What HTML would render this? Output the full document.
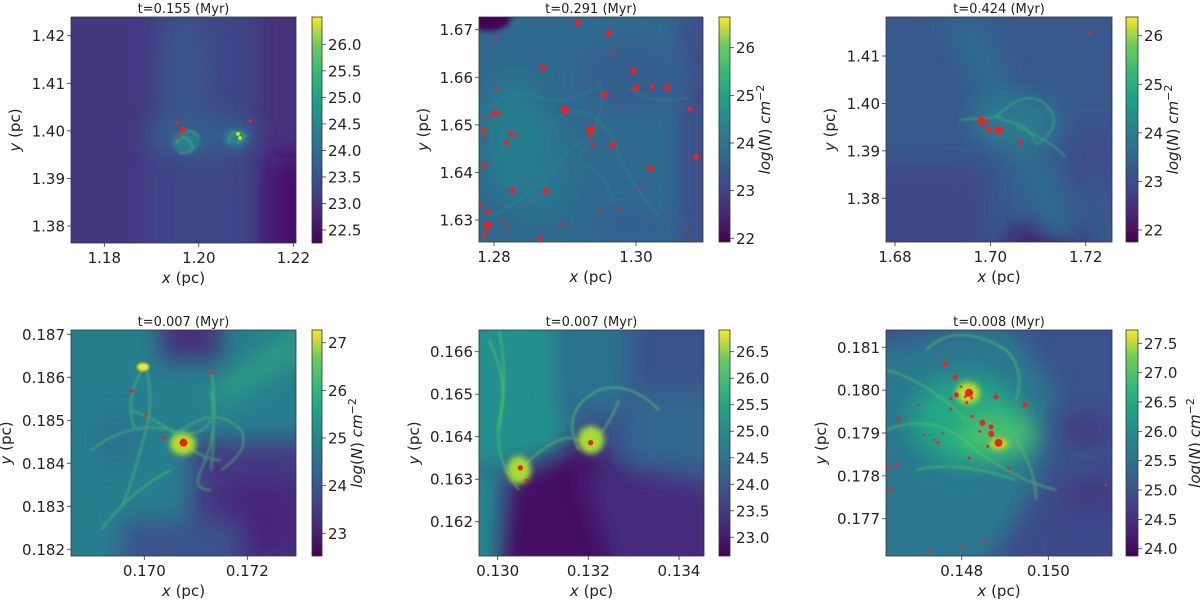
<!DOCTYPE html>
<html><head><meta charset="utf-8"><style>
html,body{margin:0;padding:0;background:#fff;width:1200px;height:600px;overflow:hidden}
svg text{font-family:"DejaVu Sans","Liberation Sans",sans-serif;fill:#222}
</style></head><body>
<svg id="fig" width="1200" height="600" viewBox="0 0 1200 600" xmlns="http://www.w3.org/2000/svg">
<defs>
<linearGradient id="viridis" x1="0" y1="1" x2="0" y2="0">
<stop offset="0" stop-color="#440154"/><stop offset="0.13" stop-color="#482878"/><stop offset="0.25" stop-color="#3e4989"/><stop offset="0.38" stop-color="#31688e"/><stop offset="0.5" stop-color="#26828e"/><stop offset="0.63" stop-color="#1f9e89"/><stop offset="0.75" stop-color="#35b779"/><stop offset="0.88" stop-color="#6ece58"/><stop offset="1" stop-color="#fde725"/>
</linearGradient>
<filter id="b8" filterUnits="userSpaceOnUse" x="-150" y="-150" width="550" height="550"><feGaussianBlur stdDeviation="12"/></filter>
<filter id="b3" filterUnits="userSpaceOnUse" x="-150" y="-150" width="550" height="550"><feGaussianBlur stdDeviation="3"/></filter>
<filter id="b1" filterUnits="userSpaceOnUse" x="-150" y="-150" width="550" height="550"><feGaussianBlur stdDeviation="1"/></filter>
</defs>
</svg>
<script>
// ---- data ----
const xTicks1=[1.18,1.20,1.22], yTicks1=[1.38,1.39,1.40,1.41,1.42], cTicks1=[22.5,23.0,23.5,24.0,24.5,25.0,25.5,26.0];
const sinkX1=[1.1967,1.1958,1.1954,1.2109], sinkY1=[1.4002,1.3985,1.4017,1.4021], sinkR1=[3,1.5,1.5,1.5];
const xTicks2=[1.28,1.30], yTicks2=[1.63,1.64,1.65,1.66,1.67], cTicks2=[22,23,24,25,26];
const sinkX2=[1.2918,1.2962,1.2869,1.2996,1.3000,1.3023,1.3044,1.2956,1.2900,1.2801,1.3076,1.2936,1.2967,1.2935,1.2940,1.3085,1.3020,1.2824,1.2818,1.2787,1.2787,1.2826,1.2873,1.2791,1.2780,1.2792,1.2787,1.2865,1.2819,1.2812,1.3004,1.2949,1.2976,1.3070,1.2896,1.2792,1.2808,1.2805,1.2832,1.2786,1.2967,1.2802];
const sinkY2=[1.6715,1.6692,1.6620,1.6613,1.6578,1.6580,1.6578,1.6563,1.6531,1.6525,1.6533,1.6489,1.6458,1.6473,1.6456,1.6433,1.6408,1.6482,1.6462,1.6471,1.6415,1.6362,1.6361,1.6288,1.6330,1.6318,1.6268,1.6261,1.6284,1.6300,1.6365,1.6319,1.6321,1.6281,1.6290,1.6517,1.6524,1.6575,1.6477,1.6488,1.6652,1.6683];
const sinkR2=[3,3,3,3,3,2.5,3,3,4,3,2.5,4,3,1.8,1.8,3,3,2.5,2.5,1.5,2.5,3,3,4,2.5,2.5,2.5,2.5,1.5,1.5,1.5,1.5,1.5,1.5,1.5,1.5,1.5,1.5,1.5,2.5,1.5,1.5];
const xTicks3=[1.68,1.70,1.72], yTicks3=[1.38,1.39,1.40,1.41], cTicks3=[22,23,24,25,26];
const sinkX3=[1.6982,1.6997,1.7018,1.7062,1.7207,1.6997], sinkY3=[1.3963,1.3946,1.3943,1.3917,1.4149,1.3964], sinkR3=[4,3,4,2.3,1.5,1.2];
const xTicks4=[0.170,0.172], yTicks4=[0.182,0.183,0.184,0.185,0.186,0.187], cTicks4=[23,24,25,26,27];
const sinkX4=[0.17076,0.16976,0.17003,0.17038,0.17130], sinkY4=[0.18448,0.18568,0.18512,0.18460,0.18612], sinkR4=[4,1.8,1.8,1.8,1.8];
const xTicks5=[0.130,0.132,0.134], yTicks5=[0.162,0.163,0.164,0.165,0.166], cTicks5=[23.0,23.5,24.0,24.5,25.0,25.5,26.0,26.5];
const sinkX5=[0.13050,0.13205,0.13063], sinkY5=[0.16327,0.16386,0.16297], sinkR5=[2.6,2.6,1.6];
const xTicks6=[0.148,0.150], yTicks6=[0.177,0.178,0.179,0.180,0.181], cTicks6=[24.0,24.5,25.0,25.5,26.0,26.5,27.0,27.5];
const sinkX6=[0.14817,0.14885,0.14848,0.14868,0.14868,0.14788,0.14879,0.14946,0.14761,0.14785,0.14823,0.14809,0.14812,0.14775,0.14775,0.14824,0.14842,0.14860,0.14817,0.14908,0.14745,0.14756,0.14737,0.14713,0.14700,0.14655,0.14650,0.14631,0.14635,0.14723,0.14802,0.14852,0.15134,0.14799];
const sinkY6=[0.17994,0.17877,0.17924,0.17898,0.17914,0.17989,0.17984,0.17965,0.18062,0.18030,0.17982,0.17985,0.17971,0.17980,0.17956,0.17939,0.17904,0.17869,0.17842,0.17817,0.17878,0.17900,0.17884,0.17895,0.17965,0.17932,0.17827,0.17818,0.17767,0.17627,0.17631,0.17646,0.17779,0.18008];
const sinkR6=[4,4,3,3,2.5,2.5,2.5,2.5,2.5,2.5,1.5,1.5,1.5,1.5,1.5,1.5,1.5,1.5,1.5,1.5,1.5,1.2,1.2,1.2,1.2,1.8,1.8,1.8,1.8,1.5,1.5,1.5,1.2,1.2];

// ---- layout ----
const panels=[
 {id:1,title:'t=0.155 (Myr)',box:[71,17,296,243],xr:[1.18,104.3,1.22,293.3],yr:[1.42,35.7,1.38,226],xt:xTicks1,yt:yTicks1,xd:2,yd:2,cb:[312,322],cr:[26.0,44.3,22.5,230],ct:cTicks1,cd:1,lab:false,sx:sinkX1,sy:sinkY1,sr:sinkR1,
  base:'#3f4788',bg:[['rect',{x:-30,y:-30,width:110,height:290,fill:'#453781'},'b8'],['rect',{x:185,y:-30,width:70,height:290,fill:'#46307c'},'b8'],['rect',{x:200,y:140,width:50,height:110,fill:'#45106a'},'b8'],['ellipse',{cx:115,cy:60,rx:20,ry:70,fill:'#3a578b'},'b8'],['ellipse',{cx:130,cy:118,rx:55,ry:20,fill:'#365d8d'},'b8'],['ellipse',{cx:115,cy:125,rx:14,ry:11,fill:'#2c7f8e'},'b3'],['ellipse',{cx:165,cy:121,rx:12,ry:9,fill:'#2c7f8e'},'b3'],['path',{d:'M104 128 q8 -14 16 -2 q6 10 -12 10 M110 116 q14 -6 18 6 M158 126 q0 -14 12 -10 q8 4 -4 10',stroke:'#3fbc73',fill:'none','stroke-width':1.4,opacity:0.8},'b1'],['circle',{cx:167,cy:117,r:2,fill:'#c8e020'},null],['circle',{cx:169,cy:121,r:2,fill:'#c8e020'},null]]},
 {id:2,title:'t=0.291 (Myr)',box:[479,17,703,242],xr:[1.28,494,1.30,636],yr:[1.67,29.7,1.63,220],xt:xTicks2,yt:yTicks2,xd:2,yd:2,cb:[719,730],cr:[26,47.7,22,238.3],ct:cTicks2,cd:0,lab:true,sx:sinkX2,sy:sinkY2,sr:sinkR2,
  base:'#2f6a8e',bg:[['ellipse',{cx:10,cy:0,rx:22,ry:14,fill:'#440154'},'b3'],['rect',{x:200,y:-20,width:50,height:270,fill:'#3c4f8a'},'b8'],['ellipse',{cx:150,cy:60,rx:50,ry:40,fill:'#345f8d'},'b8'],['ellipse',{cx:60,cy:150,rx:30,ry:50,fill:'#2a768e'},'b8'],['ellipse',{cx:150,cy:210,rx:40,ry:20,fill:'#33618d'},'b8'],['ellipse',{cx:35,cy:120,rx:30,ry:60,fill:'#287d8e'},'b8'],['path',{d:'M10 90 q30 -20 50 -10 t60 -10 M70 110 q20 -25 45 -10 q20 15 25 40 q15 30 40 60 M95 145 q30 5 40 40 M10 200 q40 -20 60 -40 q20 -30 40 -40 M120 60 q10 40 -20 80 M150 70 q20 20 60 10',stroke:'#25938a',fill:'none','stroke-width':1.3,opacity:0.6},'b1']]},
 {id:3,title:'t=0.424 (Myr)',box:[886,17,1112,242],xr:[1.68,895,1.72,1085.7],yr:[1.41,56,1.38,198.3],xt:xTicks3,yt:yTicks3,xd:2,yd:2,cb:[1126,1138],cr:[26,35.7,22,230],ct:cTicks3,cd:0,lab:true,sx:sinkX3,sy:sinkY3,sr:sinkR3,
  base:'#38598c',bg:[['rect',{x:-30,y:150,width:130,height:110,fill:'#3f4788'},'b8'],['rect',{x:180,y:110,width:60,height:60,fill:'#3d4d8a'},'b8'],['ellipse',{cx:160,cy:226,rx:40,ry:16,fill:'#471063'},'b8'],['path',{d:'M55 0 L95 0 L200 226 L160 226 Z',fill:'#2f6b8e'},'b8'],['ellipse',{cx:130,cy:105,rx:45,ry:25,fill:'#297a8e'},'b8'],['path',{d:'M75 103 L110 100 L140 110 L150 125 M110 100 q30 -30 50 -12 q20 20 -10 40 M130 110 q30 10 50 30',stroke:'#35b779',fill:'none','stroke-width':1.4,opacity:0.8},'b1']]},
 {id:4,title:'t=0.007 (Myr)',box:[71,330,296,556],xr:[0.170,144.3,0.172,247.3],yr:[0.187,334.3,0.182,549.3],xt:xTicks4,yt:yTicks4,xd:3,yd:3,cb:[312,322],cr:[27,342.7,23,533.3],ct:cTicks4,cd:0,lab:true,sx:sinkX4,sy:sinkY4,sr:sinkR4,
  base:'#277f8e',bg:[['rect',{x:120,y:110,width:130,height:140,fill:'#443a83'},'b8'],['rect',{x:150,y:150,width:80,height:80,fill:'#46287a'},'b8'],['rect',{x:90,y:-20,width:60,height:50,fill:'#472d7b'},'b8'],['rect',{x:50,y:190,width:120,height:60,fill:'#3b528b'},'b8'],['path',{d:'M140 60 L240 -10 L240 20 L150 75 Z',fill:'#35b779',opacity:0.6},'b8'],['ellipse',{cx:45,cy:110,rx:25,ry:30,fill:'#2c728e'},'b8'],['path',{d:'M73 37 q-20 30 -10 60 M75 37 q10 40 -5 80 q-10 40 -20 60 M20 120 q40 -30 80 -20 q30 10 40 -10 M60 80 q30 10 50 30 q20 20 40 20 M140 60 q5 40 0 80 M140 40 q10 60 -10 100 q-10 20 10 20 M30 200 q30 -40 70 -60 M100 110 q40 -40 70 -10 q10 20 -20 40',stroke:'#4ac16d',fill:'none','stroke-width':2,opacity:0.6},'b1'],['ellipse',{cx:112,cy:114,rx:13,ry:11,fill:'#b5de2b'},'b3'],['ellipse',{cx:72,cy:37,rx:6,ry:4,fill:'#fde725'},'b1']]},
 {id:5,title:'t=0.007 (Myr)',box:[479,330,704,556],xr:[0.130,497.7,0.134,679],yr:[0.166,351.7,0.162,521.7],xt:xTicks5,yt:yTicks5,xd:3,yd:3,cb:[719,730],cr:[26.5,351.7,23.0,537.3],ct:cTicks5,cd:1,lab:false,sx:sinkX5,sy:sinkY5,sr:sinkR5,
  base:'#3b528b',bg:[['rect',{x:-30,y:-30,width:120,height:170,fill:'#21908c'},'b8'],['rect',{x:80,y:-30,width:70,height:110,fill:'#2c728e'},'b8'],['rect',{x:150,y:60,width:100,height:80,fill:'#31688e'},'b8'],['path',{d:'M30 150 L110 110 L140 150 L150 250 L10 250 Z',fill:'#440f64'},'b8'],['path',{d:'M100 140 L150 140 L240 160 L240 250 L140 250 Z',fill:'#472a7a'},'b8'],['rect',{x:-20,y:140,width:40,height:110,fill:'#23898e'},'b8'],['path',{d:'M10 10 q20 40 10 80 q-5 40 20 70 M20 0 q10 50 0 100 M40 140 q40 -40 60 -30 q20 10 40 -40 M100 120 q-20 -40 20 -60 q30 -10 60 20',stroke:'#5ec962',fill:'none','stroke-width':2,opacity:0.6},'b1'],['ellipse',{cx:40,cy:140,rx:12,ry:14,fill:'#a5db36'},'b3'],['ellipse',{cx:112,cy:110,rx:13,ry:14,fill:'#a5db36'},'b3']]},
 {id:6,title:'t=0.008 (Myr)',box:[886,330,1112,556],xr:[0.148,961.7,0.150,1048.3],yr:[0.181,347.3,0.177,518.7],xt:xTicks6,yt:yTicks6,xd:3,yd:3,cb:[1126,1138],cr:[27.5,343.3,24.0,548.7],ct:cTicks6,cd:1,lab:true,sx:sinkX6,sy:sinkY6,sr:sinkR6,
  base:'#3b528b',bg:[['path',{d:'M-20 20 L120 -10 L170 60 L150 160 L90 250 L-20 250 Z',fill:'#2a788e'},'b8'],['path',{d:'M150 170 L240 120 L240 250 L120 250 Z',fill:'#3e4a89'},'b8'],['ellipse',{cx:200,cy:100,rx:25,ry:12,fill:'#46327e'},'b8'],['ellipse',{cx:205,cy:165,rx:25,ry:12,fill:'#46327e'},'b8'],['ellipse',{cx:80,cy:90,rx:55,ry:45,fill:'#22a785'},'b8'],['ellipse',{cx:110,cy:105,rx:40,ry:22,fill:'#4ac16d'},'b8'],['path',{d:'M0 40 q40 10 80 50 M0 100 q50 -20 90 20 q40 30 80 40 M40 20 q30 -30 80 0 q20 20 10 50 M130 110 q20 30 20 60 M30 140 q40 -10 100 10',stroke:'#5ec962',fill:'none','stroke-width':2,opacity:0.55},'b1'],['ellipse',{cx:82,cy:63,rx:12,ry:11,fill:'#b5de2b'},'b3'],['ellipse',{cx:113,cy:114,rx:9,ry:5,fill:'#d8e219'},'b3']]}
];

const NS='http://www.w3.org/2000/svg';
const fig=document.getElementById('fig');
function mk(tag,attrs,parent){const e=document.createElementNS(NS,tag);for(const k in attrs)e.setAttribute(k,attrs[k]);(parent||fig).appendChild(e);return e;}
function lin(r){return v=>r[1]+(v-r[0])*(r[3]-r[1])/(r[2]-r[0]);}

panels.forEach(p=>{
  const [x0,y0,x1,y1]=p.box, w=x1-x0, h=y1-y0;
  const X=lin(p.xr), Y=lin(p.yr), C=lin(p.cr);
  const g=mk('g',{});
  
  
  const cp=mk('clipPath',{id:'clip'+p.id},g);
  mk('rect',{x:x0,y:y0,width:w,height:h},cp);
  const img=mk('g',{'clip-path':'url(#clip'+p.id+')'},g);
  
  
  mk('rect',{x:x0,y:y0,width:w,height:h,fill:p.base},img);
  const inner=mk('g',{transform:'translate('+x0+','+y0+')'},img);
  p.bg.forEach(s=>{const a=Object.assign({},s[1]);if(s[2])a.filter='url(#'+s[2]+')';mk(s[0],a,inner);});
  for(let i=0;i<p.sx.length;i++){
    const c=mk('circle',{cx:X(p.sx[i]),cy:Y(p.sy[i]),r:p.sr[i],fill:'#ff1a1a'},img);
    
    
  }
  const fr=mk('rect',{x:x0,y:y0,width:w,height:h,fill:'none',stroke:'#333','stroke-width':0.8},g);
  
  
  const t=mk('text',{x:(x0+x1)/2,y:y0-4,'text-anchor':'middle','font-size':13},g);t.textContent=p.title;
  
  
  p.xt.forEach(v=>{const px=X(v);mk('line',{x1:px,x2:px,y1:y1,y2:y1+4,stroke:'#333','stroke-width':0.8},g);
    const tx=mk('text',{x:px,y:y1+20,'text-anchor':'middle','font-size':15},g);tx.textContent=v.toFixed(p.xd);
    
    });
  p.yt.forEach(v=>{const py=Y(v);mk('line',{x1:x0-4,x2:x0,y1:py,y2:py,stroke:'#333','stroke-width':0.8},g);
    const ty=mk('text',{x:x0-6,y:py+5.5,'text-anchor':'end','font-size':15},g);ty.textContent=v.toFixed(p.yd);
    
    });
  const xl=mk('text',{x:(x0+x1)/2,y:y1+40,'text-anchor':'middle','font-size':15},g);
  xl.innerHTML='<tspan font-style="italic">x</tspan> (pc)';
  
  
  const ylx=p.yd===3?x0-60:x0-51;
  const yl=mk('text',{x:ylx,y:(y0+y1)/2,'text-anchor':'middle','font-size':15,transform:'rotate(-90 '+ylx+' '+((y0+y1)/2)+')'},g);
  yl.innerHTML='<tspan font-style="italic">y</tspan> (pc)';
  
  
  const [c0,c1]=p.cb;
  const cb=mk('rect',{x:c0,y:y0,width:c1-c0,height:h,fill:'url(#viridis)',stroke:'#333','stroke-width':0.8},g);
  
  
  p.ct.forEach(v=>{const py=C(v);mk('line',{x1:c1,x2:c1+4,y1:py,y2:py,stroke:'#333','stroke-width':0.8},g);
    const ct=mk('text',{x:c1+6,y:py+5.5,'font-size':15},g);ct.textContent=v.toFixed(p.cd);
    
    });
  if(p.lab){
    const lx=c1+(p.cd?62:40), ly=(y0+y1)/2;
    const cl=mk('text',{x:lx,y:ly,'text-anchor':'middle','font-size':15,transform:'rotate(-90 '+lx+' '+ly+')'},g);
    cl.innerHTML='<tspan font-style="italic">log</tspan>(<tspan font-style="italic">N</tspan>) <tspan font-style="italic">cm</tspan><tspan dy="-6" font-size="11">−2</tspan>';
    
    
  }
});
</script>
</body></html>
